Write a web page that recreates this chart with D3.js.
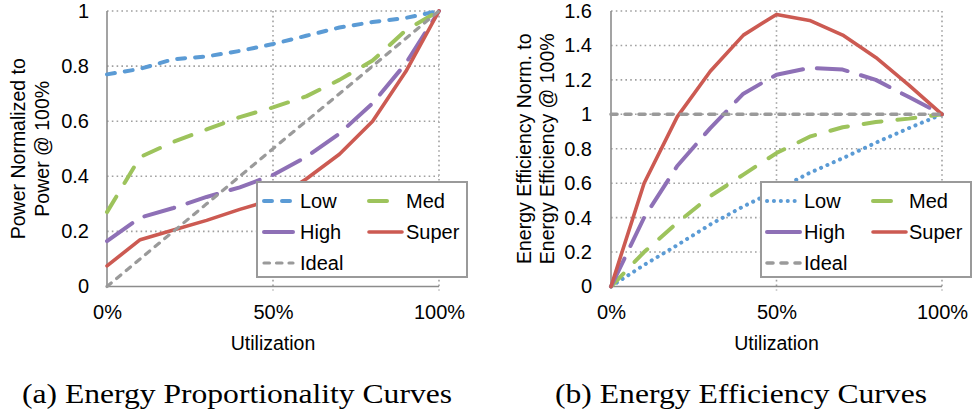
<!DOCTYPE html>
<html>
<head>
<meta charset="utf-8">
<script src="https://cdn.jsdelivr.net/npm/d3@7"></script>
<style>
  html, body { margin: 0; padding: 0; background: #fff; }
  svg { display: block; }
  text { font-family: "Liberation Sans", Arial, sans-serif; fill: #000; }
  .caption { font-family: "Liberation Serif", "Times New Roman", serif; }
</style>
</head>
<body>
<svg id="fig" width="972" height="414"></svg>
<script>
// Utilization levels (%)
const utilization = [0, 10, 20, 30, 40, 50, 60, 70, 80, 90, 100];
const xTickValues = [0, 50, 100];
const xTickLabels = ["0%", "50%", "100%"];

// (a) Power normalized to power at 100% utilization
const lowPower   = [0.77, 0.79, 0.825, 0.835, 0.855, 0.88, 0.91, 0.94, 0.96, 0.975, 1];
const medPower   = [0.27, 0.47, 0.525, 0.57, 0.615, 0.65, 0.69, 0.75, 0.82, 0.93, 1];
const highPower  = [0.165, 0.25, 0.285, 0.325, 0.36, 0.405, 0.47, 0.555, 0.665, 0.81, 1];
const superPower = [0.075, 0.17, 0.205, 0.24, 0.28, 0.315, 0.39, 0.48, 0.6, 0.78, 1];
const idealPower = [0, 0.1, 0.2, 0.3, 0.4, 0.5, 0.6, 0.7, 0.8, 0.9, 1];
const powerTicks = [0, 0.2, 0.4, 0.6, 0.8, 1];
const powerTickLabels = ["0", "0.2", "0.4", "0.6", "0.8", "1"];

// (b) Energy efficiency normalized to efficiency at 100% utilization
const lowEff   = [0, 0.125, 0.24, 0.36, 0.465, 0.56, 0.66, 0.745, 0.835, 0.92, 1];
const medEff   = [0, 0.2, 0.37, 0.525, 0.65, 0.775, 0.87, 0.925, 0.955, 0.975, 1];
const highEff  = [0, 0.4, 0.7, 0.92, 1.12, 1.23, 1.27, 1.26, 1.2, 1.1, 1];
const superEff = [0, 0.6, 0.985, 1.25, 1.46, 1.58, 1.545, 1.46, 1.33, 1.17, 1];
const idealEff = [1, 1, 1, 1, 1, 1, 1, 1, 1, 1, 1];
const effTicks = [0, 0.2, 0.4, 0.6, 0.8, 1, 1.2, 1.4, 1.6];
const effTickLabels = ["0", "0.2", "0.4", "0.6", "0.8", "1", "1.2", "1.4", "1.6"];

const seriesNames = ["Low", "Med", "High", "Super", "Ideal"];

const colors = {
  Low: "#5b9bd5",
  Med: "#9dc35c",
  High: "#8e70b6",
  Super: "#cc5a52",
  Ideal: "#9a9a9a"
};

const svg = d3.select("#fig");

function drawPanel(cfg) {
  const g = svg.append("g");
  const x = d3.scaleLinear().domain([0, 100]).range([cfg.left, cfg.right]);
  const y = d3.scaleLinear().domain([0, cfg.yMax]).range([cfg.bottom, cfg.top]);

  // dotted gridlines
  const grid = g.append("g")
    .attr("stroke", "#a0a0a0").attr("stroke-width", 1.6)
    .attr("stroke-dasharray", "1.6,3.2");
  grid.selectAll("line.h").data(cfg.yTicks.filter(v => v > 0)).join("line")
    .attr("class", "h")
    .attr("x1", x(0)).attr("x2", x(100))
    .attr("y1", d => y(d)).attr("y2", d => y(d));
  grid.selectAll("line.v").data(xTickValues.filter(v => v > 0)).join("line")
    .attr("class", "v")
    .attr("x1", d => x(d)).attr("x2", d => x(d))
    .attr("y1", y(cfg.yMax)).attr("y2", y(0) + 4);

  // y axis labels
  const yAxis = d3.axisLeft(y).tickValues(cfg.yTicks)
    .tickFormat((d, i) => cfg.yLabels[i]).tickSize(0).tickPadding(0);
  const ya = g.append("g")
    .attr("transform", `translate(${cfg.yLabelRight},0)`)
    .call(yAxis);
  ya.select(".domain").remove();
  ya.selectAll("text").attr("font-size", 20).attr("fill", "#000")
    .attr("font-family", "Liberation Sans, Arial, sans-serif");

  // x axis labels
  const xAxis = d3.axisBottom(x).tickValues(xTickValues)
    .tickFormat((d, i) => xTickLabels[i]).tickSize(0).tickPadding(0);
  const xa = g.append("g")
    .attr("transform", `translate(0,${cfg.bottom + 18})`)
    .call(xAxis);
  xa.select(".domain").remove();
  xa.selectAll("text").attr("font-size", 20).attr("fill", "#000")
    .attr("font-family", "Liberation Sans, Arial, sans-serif");

  // axis lines
  g.append("line")
    .attr("x1", x(0)).attr("x2", x(0)).attr("y1", y(cfg.yMax)).attr("y2", y(0))
    .attr("stroke", "#8c8c8c").attr("stroke-width", 1.6);
  g.append("line")
    .attr("x1", x(0)).attr("x2", x(100)).attr("y1", y(0)).attr("y2", y(0))
    .attr("stroke", "#8c8c8c").attr("stroke-width", 1.6);

  // x axis title
  g.append("text")
    .attr("x", x(50)).attr("y", cfg.bottom + 63)
    .attr("text-anchor", "middle").attr("font-size", 19.5)
    .text("Utilization");

  // y axis title (two lines)
  cfg.yTitle.forEach((line, i) => {
    g.append("text")
      .attr("transform", `translate(${cfg.yTitleX[i]},${(cfg.top + cfg.bottom) / 2}) rotate(-90)`)
      .attr("text-anchor", "middle").attr("font-size", 19.5)
      .text(line);
  });

  // series lines
  const line = d3.line()
    .x((d, i) => x(utilization[i]))
    .y(d => y(d));
  seriesNames.forEach(name => {
    const st = cfg.styles[name];
    g.append("path")
      .datum(cfg.series[name])
      .attr("d", line)
      .attr("fill", "none")
      .attr("stroke", colors[name])
      .attr("stroke-width", st.w)
      .attr("stroke-linecap", "round")
      .attr("stroke-linejoin", "round")
      .attr("stroke-dasharray", st.dash);
  });

  // legend
  const lg = g.append("g");
  lg.append("rect")
    .attr("x", cfg.legend.x).attr("y", cfg.legend.y)
    .attr("width", cfg.legend.w).attr("height", cfg.legend.h)
    .attr("fill", "#fff").attr("stroke", "#9a9a9a").attr("stroke-width", 2);
  const rows = [cfg.legend.y + 19, cfg.legend.y + 50, cfg.legend.y + 81];
  const cols = cfg.legend.cols;
  const slots = [[0, 0], [1, 0], [0, 1], [1, 1], [0, 2]];
  seriesNames.forEach((name, i) => {
    const [c, r] = slots[i];
    const col = cols[c];
    const st = cfg.styles[name];
    lg.append("line")
      .attr("x1", col.s0).attr("x2", col.s1)
      .attr("y1", rows[r]).attr("y2", rows[r])
      .attr("stroke", colors[name])
      .attr("stroke-width", st.w)
      .attr("stroke-linecap", "round")
      .attr("stroke-dasharray", st.legendDash || st.dash);
    lg.append("text")
      .attr("x", col.t).attr("y", rows[r] + 7)
      .attr("font-size", 20)
      .text(name);
  });

  // caption
  svg.append("text")
    .attr("class", "caption")
    .attr("x", cfg.caption.x).attr("y", 403)
    .attr("font-size", 28)
    .attr("textLength", cfg.caption.len)
    .attr("lengthAdjust", "spacingAndGlyphs")
    .text(cfg.caption.text);
}

drawPanel({
  left: 107, right: 439, top: 11, bottom: 286.5, yMax: 1,
  yTicks: powerTicks, yLabels: powerTickLabels, yLabelRight: 89,
  yTitle: ["Power Normalized to", "Power @ 100%"], yTitleX: [25, 49],
  series: { Low: lowPower, Med: medPower, High: highPower, Super: superPower, Ideal: idealPower },
  styles: {
    Low:   { w: 4, dash: "8,10" },
    Med:   { w: 4, dash: "18,16" },
    High:  { w: 4, dash: "31,14", legendDash: "none" },
    Super: { w: 3.6, dash: "none" },
    Ideal: { w: 3.2, dash: "5.5,7" }
  },
  legend: { x: 257, y: 182, w: 210, h: 95,
    cols: [{ s0: 264, s1: 293, t: 300 }, { s0: 369, s1: 402, t: 406 }] },
  caption: { x: 22, len: 430, text: "(a) Energy Proportionality Curves" }
});

drawPanel({
  left: 611, right: 942, top: 11, bottom: 286.5, yMax: 1.6,
  yTicks: effTicks, yLabels: effTickLabels, yLabelRight: 592,
  yTitle: ["Energy Efficiency Norm. to", "Energy Efficiency @ 100%"], yTitleX: [531, 554],
  series: { Low: lowEff, Med: medEff, High: highEff, Super: superEff, Ideal: idealEff },
  styles: {
    Low:   { w: 4, dash: "0.1,6.8" },
    Med:   { w: 4, dash: "18,16" },
    High:  { w: 4, dash: "31,14", legendDash: "none" },
    Super: { w: 3.6, dash: "none" },
    Ideal: { w: 3.6, dash: "6,8" }
  },
  legend: { x: 761, y: 182, w: 210, h: 95,
    cols: [{ s0: 767, s1: 800, t: 804 }, { s0: 873, s1: 906, t: 909 }] },
  caption: { x: 555, len: 372, text: "(b) Energy Efficiency Curves" }
});
</script>
</body>
</html>
